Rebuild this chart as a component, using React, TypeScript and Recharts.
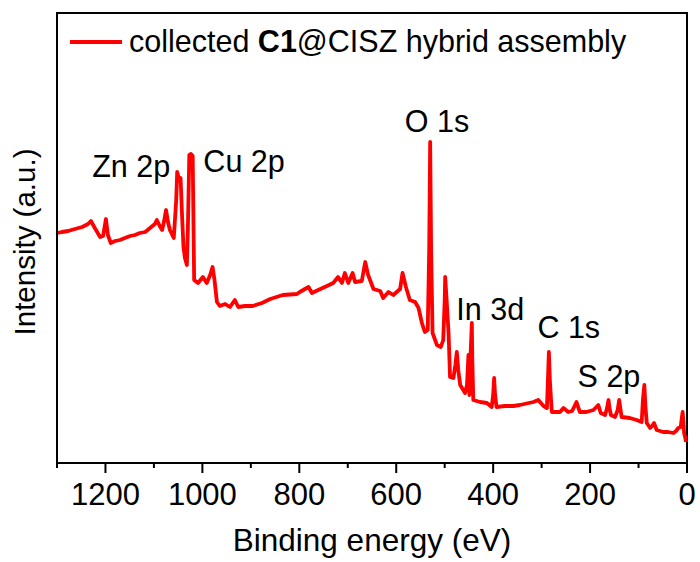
import React from "react";
import {
  Legend,
  Line,
  LineChart,
  ReferenceArea,
  ReferenceDot,
  XAxis,
  YAxis,
} from "recharts";

const FONT = '"Liberation Sans", Arial, sans-serif';

// survey spectrum (binding energy in eV, intensity in a.u.)
const energyEv = [
  1300, 1290, 1277, 1263, 1248, 1236, 1230, 1222, 1211, 1205, 1199, 1195, 1189, 1180, 1170,
  1160, 1149, 1139, 1129, 1118, 1108, 1098, 1094, 1087, 1083, 1079, 1075, 1071, 1067, 1063,
  1059, 1054, 1052, 1048, 1045, 1042, 1039, 1036, 1032, 1030, 1027, 1023.5, 1020, 1017, 1009,
  999, 991, 984, 979, 975, 970, 964, 953, 943, 933, 926, 912, 896, 877, 860,
  834, 805, 799, 781, 774, 761, 743, 730, 720, 712, 706, 699, 690, 685, 671,
  664, 658, 647, 633, 627, 616, 606, 592, 587, 580, 572, 561, 554, 547, 541,
  535, 532, 530, 528, 525, 516, 508, 503, 500, 499, 496, 492, 489, 482, 478,
  475, 472, 468, 458, 454, 451, 449, 447, 444, 443, 441, 427, 413, 403, 400,
  398, 396, 393, 376, 358, 345, 317, 307, 296, 289, 287, 285, 283, 279, 262,
  255, 245, 237, 232, 228, 224, 221, 208, 193, 183, 178, 169, 165, 162, 160,
  157, 148.5, 143, 140, 137, 135, 118, 104, 93.5, 91, 88, 86, 83, 76, 72,
  68, 65, 62.5, 49, 39, 28, 22.7, 18, 13, 10.7, 9, 7.4, 6, 4, 2,
];

const intensityAu = [
  230, 231, 232, 234, 236, 239, 242, 235, 226, 227, 244, 228, 220, 222, 223,
  225, 227, 228, 230, 231, 235, 239, 243, 236, 233, 242, 253, 241, 233, 229,
  225, 263, 291, 283, 285, 248, 216, 205, 198, 233, 308, 309, 307, 183, 180,
  186, 180, 188, 196, 183, 161, 157, 159, 156, 163, 156, 157, 157, 160, 164,
  168, 169, 171, 176, 170, 173, 177, 180, 186, 180, 190, 180, 190, 181, 182,
  201, 188, 174, 172, 165, 171, 168, 174, 190, 176, 163, 161, 155, 140, 131,
  133, 213, 321, 213, 130, 118, 116, 123, 163, 186, 163, 130, 86, 85, 98,
  111, 93, 78, 70, 78, 108, 68, 103, 140, 103, 63, 61, 60, 56, 68,
  85, 68, 56, 57, 57, 58, 61, 63, 57, 55, 83, 111, 83, 51, 51,
  55, 51, 52, 57, 61, 55, 51, 51, 53, 58, 50, 48, 55, 63, 55,
  48, 46, 53, 63, 53, 46, 45, 43, 41, 63, 78, 58, 40, 35, 37,
  40, 36, 33, 31, 31, 30, 32, 35, 36, 45, 51, 41, 30, 26, 21,
];

const energyTicks = [1300, 1200, 1100, 1000, 900, 800, 700, 600, 500, 400, 300, 200, 100, 0];

// peak assignments, placed at (eV, a.u.) of the text baseline centre
const peakNames = ["Zn 2p", "Cu 2p", "O 1s", "In 3d", "C 1s", "S 2p"];
const peakLabelEv = [1147, 914, 516, 406, 244, 161];
const peakLabelAu = [286, 291, 331, 143, 125, 76];

const data = energyEv.map((e, i) => ({ e, counts: intensityAu[i] }));

function EnergyTick(props: any) {
  const { x, y, payload } = props;
  const major = payload.value % 200 === 0;
  return (
    <g>
      <line x1={x} x2={x} y1={y} y2={y + (major ? 10 : 5)} stroke="#000" strokeWidth={2} />
      {major && (
        <text x={x} y={y + 42} textAnchor="middle" fontSize={31} fontFamily={FONT} fill="#000">
          {payload.value}
        </text>
      )}
    </g>
  );
}

function LegendBox(props: any) {
  const color = props.payload?.[0]?.color ?? "#ff0000";
  return (
    <div style={{ display: "flex", alignItems: "center", fontFamily: FONT, fontSize: 30.5, whiteSpace: "nowrap" }}>
      <span style={{ display: "inline-block", width: 52, height: 4, background: color, marginRight: 7 }} />
      <span>
        collected <b>C1</b>@CISZ hybrid assembly
      </span>
    </div>
  );
}

export default function App() {
  return (
    <div style={{ position: "absolute", left: 0, top: 0, width: 700, height: 562, background: "#fff" }}>
      <LineChart width={700} height={562} data={data} margin={{ top: 13, right: 13, left: 0, bottom: 0 }}>
        <XAxis
          dataKey="e"
          type="number"
          domain={[0, 1300]}
          reversed
          ticks={energyTicks}
          interval={0}
          height={99}
          tickSize={0}
          tickMargin={0}
          tickLine={false}
          tick={<EnergyTick />}
          axisLine={{ stroke: "#000", strokeWidth: 2 }}
          label={{
            content: (p: any) => (
              <text
                x={p.viewBox.x + p.viewBox.width / 2}
                y={p.viewBox.y + 88}
                textAnchor="middle"
                fontSize={31.5}
                fontFamily={FONT}
                fill="#000"
              >
                Binding energy (eV)
              </text>
            ),
          }}
        />
        <YAxis
          type="number"
          domain={[0, 450]}
          width={57}
          tick={false}
          tickLine={false}
          axisLine={{ stroke: "#000", strokeWidth: 2 }}
          label={{
            content: (p: any) => {
              const cx = p.viewBox.x + 35;
              const cy = p.viewBox.y + p.viewBox.height / 2 + 4;
              return (
                <text
                  x={cx}
                  y={cy}
                  transform={`rotate(-90, ${cx}, ${cy})`}
                  textAnchor="middle"
                  fontSize={29.5}
                  fontFamily={FONT}
                  fill="#000"
                >
                  Intensity (a.u.)
                </text>
              );
            },
          }}
        />
        <ReferenceArea x1={0} x2={1300} y1={0} y2={450} fill="none" stroke="#000" strokeWidth={2} />
        <Line
          type="linear"
          dataKey="counts"
          name="collected C1@CISZ hybrid assembly"
          stroke="#ff0000"
          strokeWidth={3.8}
          strokeLinejoin="round"
          dot={false}
          isAnimationActive={false}
        />
        {peakNames.map((name, i) => (
          <ReferenceDot
            key={name}
            x={peakLabelEv[i]}
            y={peakLabelAu[i]}
            r={0}
            fill="none"
            stroke="none"
            label={{
              content: (p: any) => (
                <text
                  x={p.viewBox.x + (p.viewBox.width || 0) / 2}
                  y={p.viewBox.y + (p.viewBox.height || 0) / 2}
                  textAnchor="middle"
                  fontSize={30.5}
                  fontFamily={FONT}
                  fill="#000"
                >
                  {name}
                </text>
              ),
            }}
          />
        ))}
        <Legend
          verticalAlign="middle"
          align="center"
          content={<LegendBox />}
          wrapperStyle={{ top: 24, left: 70, width: "auto" }}
        />
      </LineChart>
    </div>
  );
}
